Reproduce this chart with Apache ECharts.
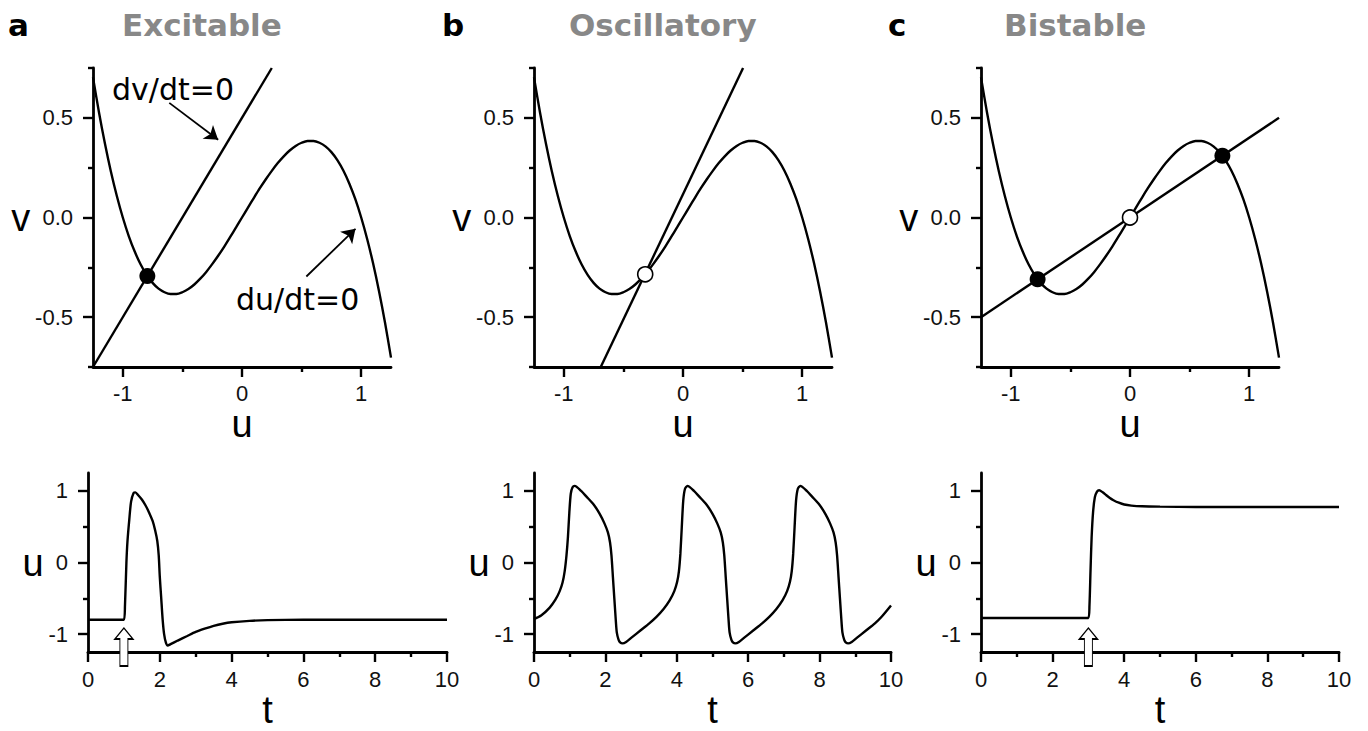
<!DOCTYPE html>
<html><head><meta charset="utf-8">
<script src="https://cdn.jsdelivr.net/npm/echarts@6/dist/echarts.min.js"></script>
<style>html,body{margin:0;padding:0;background:#fff}#c{width:1368px;height:731px}</style>
</head><body><div id="c"></div>
<script>
// ---------------- data ----------------
const panelLetters = ['a', 'b', 'c'];
const panelTitles = ['Excitable', 'Oscillatory', 'Bistable'];

// du/dt=0 nullcline (cubic), read from the phase planes
const cubicU = [-1.25,-1.2,-1.15,-1.1,-1.05,-1.0,-0.95,-0.9,-0.85,-0.8,-0.75,-0.7,-0.65,-0.6,-0.55,-0.5,-0.45,-0.4,-0.35,-0.3,-0.25,-0.2,-0.15,-0.1,-0.05,0,
  0.05,0.1,0.15,0.2,0.25,0.3,0.35,0.4,0.45,0.5,0.55,0.6,0.65,0.7,0.75,0.8,0.85,0.9,0.95,1.0,1.05,1.1,1.15,1.2,1.25];
const cubicV = [0.703,0.528,0.371,0.231,0.108,0.0,-0.093,-0.171,-0.236,-0.288,-0.328,-0.357,-0.375,-0.384,-0.384,-0.375,-0.359,-0.336,-0.307,-0.273,-0.234,-0.192,-0.147,-0.099,-0.050,0,
  0.050,0.099,0.147,0.192,0.234,0.273,0.307,0.336,0.359,0.375,0.384,0.384,0.375,0.357,0.328,0.288,0.236,0.171,0.093,0.0,-0.108,-0.231,-0.371,-0.528,-0.703];

// dv/dt=0 nullclines (straight lines), endpoints [u, v]
const dvLineA = [[-1.25, -0.75], [0.25, 0.75]];
const dvLineB = [[-0.69, -0.75], [0.504, 0.75]];
const dvLineC = [[-1.25, -0.5], [1.25, 0.5]];

// fixed points
const stableA = [[-0.794, -0.294]];
const unstableB = [[-0.317, -0.285]];
const stableC = [[-0.775, -0.31], [0.775, 0.31]];
const unstableC = [[0, 0]];

// annotations (panel a): arrow start/end and text anchor
const annotTexts = ['dv/dt=0', 'du/dt=0'];
const annotTextAt = [[-1.09, 0.64], [-0.05, -0.41]];
const annotArrows = [[[-0.61, 0.575], [-0.2, 0.39]], [[0.54, -0.296], [0.952, -0.057]]];

// time series
const excitT = [0,1.0,1.03,1.07,1.1,1.15,1.2,1.27,1.32,1.4,1.5,1.6,1.7,1.8,1.87,1.93,1.97,2.0,2.04,2.08,2.12,2.17,2.22,2.3,2.5,2.75,3.0,3.25,3.5,3.75,4.0,4.5,5.0,6,7,8,10];
const excitU = [-0.8,-0.8,-0.6,0.0,0.3,0.6,0.85,0.97,0.98,0.94,0.88,0.8,0.7,0.58,0.45,0.3,0.1,-0.2,-0.5,-0.8,-1.0,-1.12,-1.16,-1.14,-1.09,-1.03,-0.97,-0.925,-0.885,-0.855,-0.835,-0.815,-0.805,-0.8,-0.8,-0.8,-0.8];

const oscT = [0,0.2,0.44,0.6,0.72,0.8,0.86,0.91,0.95,0.99,1.03,1.08,1.14,
  1.32,1.47,1.67,1.84,1.97,2.07,2.13,2.17,2.21,2.25,2.29,2.32,2.37,2.42,2.48,
  2.58,2.73,2.98,3.23,3.43,3.63,3.80,3.93,4.01,4.06,4.10,4.14,4.18,4.23,4.30,
  4.48,4.63,4.83,5.00,5.13,5.23,5.29,5.33,5.37,5.41,5.45,5.48,5.53,5.58,5.64,
  5.74,5.89,6.14,6.39,6.59,6.79,6.96,7.09,7.17,7.22,7.26,7.30,7.34,7.39,7.46,
  7.64,7.79,7.99,8.16,8.29,8.39,8.45,8.49,8.53,8.57,8.61,8.64,8.69,8.74,8.80,
  8.90,9.05,9.30,9.55,9.75,10.0];
const oscU = [-0.79,-0.74,-0.63,-0.52,-0.40,-0.28,-0.12,0.1,0.35,0.7,0.96,1.05,1.07,
  1.00,0.92,0.81,0.68,0.55,0.42,0.28,0.10,-0.20,-0.50,-0.80,-0.98,-1.08,-1.12,-1.13,
  -1.11,-1.05,-0.95,-0.85,-0.76,-0.65,-0.53,-0.40,-0.27,-0.12,0.12,0.50,0.86,1.03,1.07,
  1.00,0.92,0.81,0.68,0.55,0.42,0.28,0.10,-0.20,-0.50,-0.80,-0.98,-1.08,-1.12,-1.13,
  -1.11,-1.05,-0.95,-0.85,-0.76,-0.65,-0.53,-0.40,-0.27,-0.12,0.12,0.50,0.86,1.03,1.07,
  1.00,0.92,0.81,0.68,0.55,0.42,0.28,0.10,-0.20,-0.50,-0.80,-0.98,-1.08,-1.12,-1.13,
  -1.11,-1.05,-0.95,-0.85,-0.75,-0.60];

const bistT = [0,3.0,3.03,3.06,3.09,3.13,3.18,3.24,3.30,3.4,3.5,3.6,3.7,3.85,4.0,4.2,4.5,5,6,8,10];
const bistU = [-0.775,-0.775,-0.6,-0.1,0.35,0.7,0.91,0.99,1.01,0.98,0.94,0.9,0.87,0.835,0.81,0.795,0.785,0.78,0.775,0.775,0.775];

// stimulus times (white arrows)
const stimA = [1];
const stimC = [3];

// axis ticks / labels
const phaseUTicks = [-1, 0, 1], phaseUMinor = [-0.5, 0.5];
const phaseVTicks = [-0.5, 0, 0.5], phaseVMinor = [-0.75, -0.25, 0.25, 0.75];
const timeTTicks = [0, 2, 4, 6, 8, 10], timeTMinor = [1, 3, 5, 7, 9];
const timeUTicks = [-1, 0, 1], timeUMinor = [-0.5, 0.5];

// ---------------- layout / style ----------------
const FONT = 'Liberation Sans';
const grids = [
  {left: 93, top: 68, width: 298, height: 299},
  {left: 534, top: 68, width: 298, height: 299},
  {left: 981, top: 68, width: 298, height: 299},
  {left: 88, top: 473, width: 359, height: 179},
  {left: 534, top: 473, width: 357, height: 179},
  {left: 981, top: 473, width: 358, height: 179}
];

function mainAxis(gi, isX, min, max, ticks, fmt, name, nameGap, margin) {
  return {
    type: 'value', gridIndex: gi, min: min, max: max, position: isX ? 'bottom' : 'left',
    axisLine: {show: true, onZero: false, lineStyle: {color: '#000', width: 2.8}},
    axisTick: {show: true, customValues: ticks, length: 10, lineStyle: {color: '#000', width: 2.4}},
    axisLabel: {show: true, customValues: ticks, formatter: fmt, margin: margin, color: '#111', fontSize: 22, fontFamily: FONT},
    splitLine: {show: false},
    name: name, nameLocation: 'middle', nameGap: nameGap, nameRotate: 0,
    nameTextStyle: {fontSize: 38, fontFamily: FONT, color: '#000'}
  };
}
function minorAxis(gi, isX, min, max, ticks) {
  return {
    type: 'value', gridIndex: gi, min: min, max: max, position: isX ? 'bottom' : 'left',
    axisLine: {show: false, onZero: false},
    axisTick: {show: true, customValues: ticks, length: 5, lineStyle: {color: '#000', width: 2.4}},
    axisLabel: {show: false}, splitLine: {show: false}
  };
}
const fmtInt = v => String(v);
const fmt1 = v => v.toFixed(1);

const xAxes = [], yAxes = [];
for (let g = 0; g < 6; g++) {
  if (g < 3) {
    xAxes.push(mainAxis(g, true, -1.25, 1.25, phaseUTicks, fmtInt, 'u', 32, 15));
    xAxes.push(minorAxis(g, true, -1.25, 1.25, phaseUMinor));
    yAxes.push(mainAxis(g, false, -0.75, 0.75, phaseVTicks, fmt1, 'v', 58, 20));
    yAxes.push(minorAxis(g, false, -0.75, 0.75, phaseVMinor));
  } else {
    xAxes.push(mainAxis(g, true, 0, 10, timeTTicks, fmtInt, 't', 33, 16));
    xAxes.push(minorAxis(g, true, 0, 10, timeTMinor));
    yAxes.push(mainAxis(g, false, -1.25, 1.25, timeUTicks, fmtInt, 'u', 44, 20));
    yAxes.push(minorAxis(g, false, -1.25, 1.25, timeUMinor));
  }
}

const zip = (a, b) => a.map((x, i) => [x, b[i]]);
function line(g, data, extra) {
  return Object.assign({
    type: 'line', xAxisIndex: g * 2, yAxisIndex: g * 2, data: data, symbol: 'none', smooth: 0.25,
    lineStyle: {color: '#000', width: 2.4}, silent: true, animation: false, z: 2
  }, extra || {});
}
function dots(g, data, filled) {
  return {
    type: 'scatter', xAxisIndex: g * 2, yAxisIndex: g * 2, data: data, symbol: 'circle',
    symbolSize: filled ? 16 : 15, silent: true, animation: false, z: 4,
    itemStyle: filled ? {color: '#000', opacity: 1} : {color: '#fff', borderColor: '#000', borderWidth: 1.6, opacity: 1}
  };
}
const STIM_Y = -1.18;
function stim(g, times) {
  return {
    type: 'scatter', xAxisIndex: g * 2, yAxisIndex: g * 2, clip: false, silent: true, animation: false, z: 6,
    data: times.map(t => [t, STIM_Y]),
    symbol: 'path://M9,0L18,11L13,11L13,38L5,38L5,11L0,11Z', symbolSize: [18, 38],
    itemStyle: {color: '#fff', borderColor: '#000', borderWidth: 1.3, opacity: 1}
  };
}

const cubic = zip(cubicU, cubicV);
const series = [
  line(0, cubic, {smooth: 0.3}),
  line(0, dvLineA, {smooth: false, markLine: {
    silent: true, animation: false, symbol: ['none', 'arrow'], symbolSize: 13,
    lineStyle: {color: '#000', width: 1.8, type: 'solid', opacity: 1}, label: {show: false},
    emphasis: {disabled: true},
    data: annotArrows.map(a => [{coord: a[0]}, {coord: a[1]}])
  }}),
  {
    type: 'scatter', xAxisIndex: 0, yAxisIndex: 0, symbolSize: 0, silent: true, animation: false,
    itemStyle: {opacity: 1},
    data: annotTextAt.map((p, i) => [p[0], p[1], annotTexts[i]]),
    label: {show: true, position: 'right', distance: 0, formatter: p => p.value[2],
      fontFamily: 'DejaVu Sans', fontSize: 30, color: '#000', opacity: 1}
  },
  dots(0, stableA, true),
  line(1, cubic, {smooth: 0.3}),
  line(1, dvLineB, {smooth: false}),
  dots(1, unstableB, false),
  line(2, cubic, {smooth: 0.3}),
  line(2, dvLineC, {smooth: false}),
  dots(2, stableC, true),
  dots(2, unstableC, false),
  line(3, zip(excitT, excitU)),
  stim(3, stimA),
  line(4, zip(oscT, oscU)),
  line(5, zip(bistT, bistU)),
  stim(5, stimC)
];

const letterLeft = [8, 442, 888];
const titleLeft = [122, 569, 1004];
const titles = [];
for (let i = 0; i < 3; i++) {
  titles.push({text: panelLetters[i], left: letterLeft[i], top: 9, padding: 0,
    textStyle: {fontFamily: 'DejaVu Sans', fontWeight: 'bold', fontSize: 31, color: '#000'}});
  titles.push({text: panelTitles[i], left: titleLeft[i], top: 9, padding: 0,
    textStyle: {fontFamily: 'DejaVu Sans', fontWeight: 'bold', fontSize: 31, color: '#888'}});
}

const chart = echarts.init(document.getElementById('c'), null, {renderer: 'svg'});
chart.setOption({
  backgroundColor: '#fff',
  animation: false,
  textStyle: {fontFamily: FONT},
  title: titles,
  grid: grids.map(g => Object.assign({outerBoundsMode: 'none', containLabel: false}, g)),
  xAxis: xAxes,
  yAxis: yAxes,
  series: series
});
</script>
</body></html>
